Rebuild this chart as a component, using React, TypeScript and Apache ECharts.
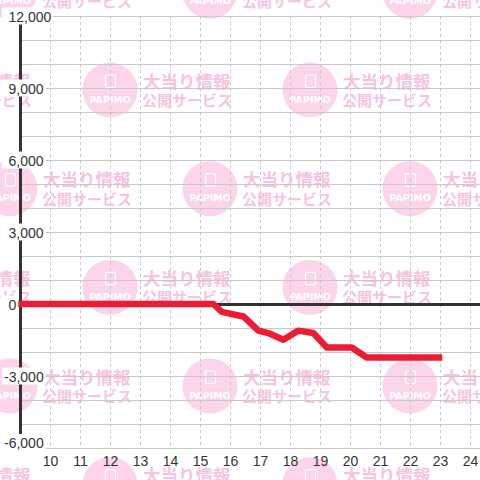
import React, { useEffect, useRef } from "react";
import * as echarts from "echarts";

// ---- data ----
const hours = [9, 15.43, 15.71, 16.43, 16.93, 17.26, 17.76, 18.26, 18.76, 19.21, 20.04, 20.54, 22.95];
const balance = [0, 0, -330, -520, -1110, -1210, -1490, -1110, -1210, -1810, -1810, -2230, -2230];
const xRange = [9, 25];
const yRange = [-6000, 12000];
const yLabelStep = 3000;
const watermarkTitle = "大当り情報";
const watermarkSub = "公開サービス";
const watermarkLogo = "PAPIMO";

const LABEL_FONT = '"Liberation Sans", Arial, sans-serif';
const CJK_FONT = '"Noto Sans CJK JP", "Noto Sans CJK SC", sans-serif';

function tile(cx: number, cy: number) {
  const z = -10;
  return {
    type: "group",
    x: cx,
    y: cy,
    silent: true,
    children: [
      { type: "circle", z, shape: { cx: 0, cy: 0, r: 27.5 }, style: { fill: "#fcd5eb" } },
      {
        type: "rect",
        z: z + 1,
        shape: { x: -4.5, y: -15, width: 10, height: 12.5, r: 1.5 },
        style: { fill: "none", stroke: "#ffffff", lineWidth: 1.2 },
      },
      {
        type: "text",
        z: z + 1,
        x: 0,
        y: 9,
        style: {
          text: watermarkLogo,
          fill: "#ffffff",
          font: 'bold 9.5px "DejaVu Sans", sans-serif',
          textAlign: "center",
          align: "center",
          textVerticalAlign: "middle",
          verticalAlign: "middle",
        },
      },
      {
        type: "text",
        z: z + 1,
        x: 33,
        y: -10,
        style: {
          text: watermarkTitle,
          fill: "#f7c4df",
          font: "bold 17.5px " + CJK_FONT,
          textAlign: "left",
          align: "left",
          textVerticalAlign: "middle",
          verticalAlign: "middle",
        },
      },
      {
        type: "text",
        z: z + 1,
        x: 32,
        y: 9.5,
        style: {
          text: watermarkSub,
          fill: "#f7c4df",
          font: "bold 15px " + CJK_FONT,
          textAlign: "left",
          align: "left",
          textVerticalAlign: "middle",
          verticalAlign: "middle",
        },
      },
    ],
  };
}

function buildWatermark() {
  const els: any[] = [];
  const rowStep = 98.67;
  for (let k = -1; k <= 4; k++) {
    const cy = 90 + rowStep * k;
    const offset = k % 2 === 0 ? 110 : 10;
    for (let n = -1; n <= 2; n++) {
      els.push(tile(offset + 200 * n, cy));
    }
  }
  return els;
}

export default function App() {
  const ref = useRef<HTMLDivElement>(null);

  useEffect(() => {
    if (!ref.current) return;
    const chart = echarts.init(ref.current, undefined, { renderer: "svg" });
    const pts = hours.map((h, i) => [h, balance[i]]);

    const option: any = {
      animation: false,
      backgroundColor: "#ffffff",
      graphic: { elements: buildWatermark() },
      grid: {
        left: 20.5,
        top: 16,
        width: 480,
        height: 432,
        containLabel: false,
        outerBoundsMode: "none",
      },
      xAxis: [
        {
          type: "value",
          position: "bottom",
          min: xRange[0],
          max: xRange[1],
          interval: 1,
          z: 0,
          axisLine: { show: false },
          axisTick: { show: false },
          axisLabel: { show: false },
          splitLine: { show: true, lineStyle: { color: "#c8c8c8", width: 1, type: [3, 3] } },
        },
        {
          type: "value",
          position: "bottom",
          min: xRange[0],
          max: xRange[1],
          interval: 1,
          z: 22,
          axisLine: { show: false },
          axisTick: { show: false },
          splitLine: { show: false },
          axisLabel: {
            show: true,
            showMinLabel: false,
            margin: 6,
            color: "#333333",
            fontSize: 14,
            fontFamily: LABEL_FONT,
          },
        },
      ],
      yAxis: [
        {
          type: "value",
          position: "left",
          min: yRange[0],
          max: yRange[1],
          interval: yLabelStep,
          z: 0,
          axisLine: { show: true, onZero: false, lineStyle: { color: "#333333", width: 3 } },
          axisTick: { show: false },
          axisLabel: { show: false },
          splitLine: { show: true, lineStyle: { color: "#c8c8c8", width: 1 } },
          minorTick: { show: false, splitNumber: 3 },
          minorSplitLine: { show: true, lineStyle: { color: "#c8c8c8", width: 1 } },
        },
        {
          type: "value",
          position: "left",
          min: yRange[0],
          max: yRange[1],
          interval: yLabelStep,
          z: 20,
          axisLine: { show: false, onZero: false },
          axisTick: { show: false },
          splitLine: { show: false },
          axisLabel: {
            show: true,
            align: "left",
            margin: 18.5,
            backgroundColor: "#ffffff",
            padding: [2, 2, 1, 2],
            color: "#333333",
            fontSize: 14,
            fontFamily: LABEL_FONT,
            formatter: (v: number) => {
              const s = Math.round(v).toLocaleString("en-US");
              if (v === yRange[0]) return "{m|" + s + "}";
              return v >= 0 ? "{s| }{t|" + s + "}" : "{t|" + s + "}";
            },
            rich: {
              s: { width: 4.5, fontSize: 14, fontFamily: LABEL_FONT },
              t: { fontSize: 14, color: "#333333", fontFamily: LABEL_FONT },
              m: { fontSize: 14, color: "#333333", fontFamily: LABEL_FONT, padding: [0, 0, 11, 0] },
            },
          },
        },
      ],
      series: [
        {
          name: "zero",
          type: "line",
          xAxisIndex: 0,
          yAxisIndex: 0,
          z: 1,
          data: pts,
          showSymbol: false,
          symbol: "none",
          silent: true,
          lineStyle: { opacity: 0 },
          markLine: {
            silent: true,
            symbol: ["none", "none"],
            label: { show: false },
            lineStyle: { color: "#333333", width: 3, type: "solid" },
            data: [{ yAxis: 0 }],
          },
        },
        {
          name: "balance",
          type: "line",
          xAxisIndex: 0,
          yAxisIndex: 0,
          z: 10,
          data: pts,
          showSymbol: false,
          symbol: "none",
          clip: false,
          lineStyle: { color: "#ec1c34", width: 6.5, cap: "square", join: "round" },
        },
      ],
    };

    chart.setOption(option);
    return () => chart.dispose();
  }, []);

  return (
    <div
      ref={ref}
      style={{ position: "fixed", left: 0, top: 0, width: 480, height: 480 }}
    />
  );
}
